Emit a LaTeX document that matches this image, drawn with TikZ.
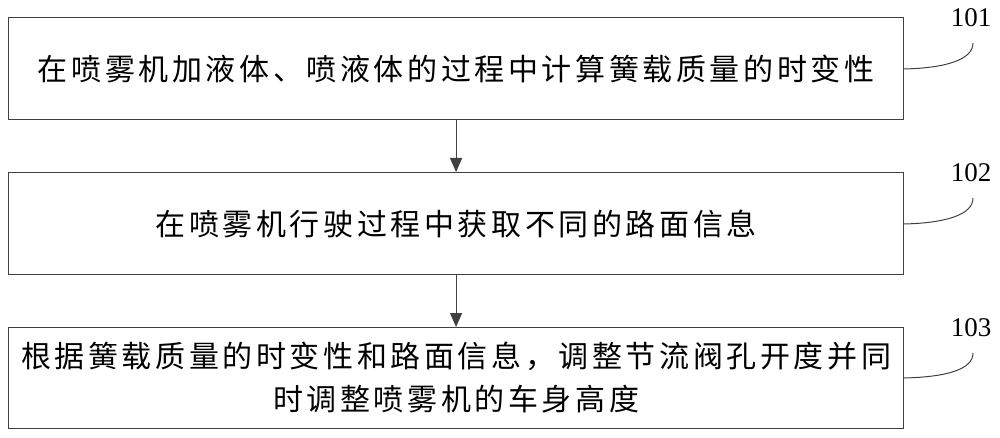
\documentclass[tikz,border=0pt]{standalone}
\usepackage{fontspec}
\setmainfont{Liberation Serif}
\newfontfamily\cjk[LetterSpace=12]{Noto Sans CJK SC}
\usetikzlibrary{arrows.meta}
\begin{document}
\begin{tikzpicture}[x=1pt,y=-1pt,
  stepbox/.style={draw=black!75, line width=1.1pt, minimum width=895pt, anchor=north west, inner sep=0pt, font=\fontsize{30}{43}\cjk, align=center},
  lab/.style={font=\fontsize{27}{27}\selectfont},
  conn/.style={draw=black!75, line width=1pt},
  flow/.style={draw=black!75, line width=1pt, -{Triangle[width=12pt,length=14pt]}}]
\useasboundingbox (0,0) rectangle (1000,438);
\node[stepbox, minimum height=102pt] (b1) at (8,17) {在喷雾机加液体、喷液体的过程中计算簧载质量的时变性};
\node[stepbox, minimum height=102pt] (b2) at (8,172) {在喷雾机行驶过程中获取不同的路面信息};
\node[stepbox, minimum height=101pt] (b3) at (8,327) {根据簧载质量的时变性和路面信息，调整节流阀孔开度并同\\时调整喷雾机的车身高度};
\draw[flow] (b1.south) -- (b2.north);
\draw[flow] (b2.south) -- (b3.north);
\node[lab] (l1) at (971,18) {101};
\node[lab] (l2) at (971,173) {102};
\node[lab] (l3) at (971,328) {103};
\coordinate (e1) at (973,43);
\coordinate (e2) at (973,198);
\coordinate (e3) at (973,353);
\draw[conn] (b1.east |- 0,69) .. controls (945,68) and (973,60) .. (e1);
\draw[conn] (b2.east |- 0,224) .. controls (945,223) and (973,215) .. (e2);
\draw[conn] (b3.east |- 0,378) .. controls (945,377) and (973,370) .. (e3);
\end{tikzpicture}
\end{document}
